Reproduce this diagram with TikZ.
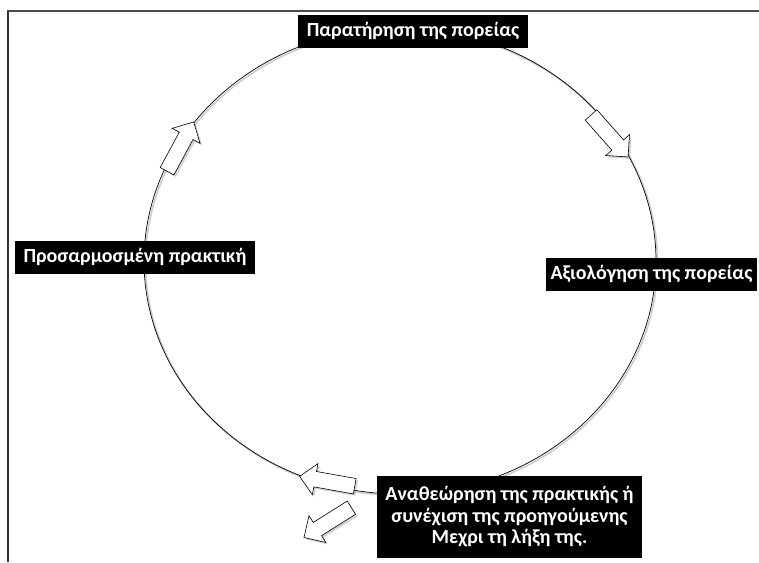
\documentclass[tikz,border=0pt]{standalone}
\usepackage{fontspec}
\setmainfont{Carlito}
\usetikzlibrary{shapes.arrows,shadows}

\begin{document}
\begin{tikzpicture}[x=1pt, y=-1pt,
    stage/.style={fill=black, text=white, font=\bfseries\fontsize{20}{21.5}\selectfont,
      inner xsep=9pt, minimum height=33pt, align=center},
    turn/.style={single arrow, draw=black, fill=white, line width=0.6pt,
      minimum height=56pt, minimum width=31pt, single arrow head extend=8pt,
      inner xsep=0pt, inner ysep=7.5pt,
      drop shadow={opacity=0.35, shadow xshift=2pt, shadow yshift=-2pt}}]
    \useasboundingbox (0,0) rectangle (759,562);
    % frame
    \draw[black!70, line width=2pt] (7,11) -- (759,11);
    \draw[black!80, line width=2pt] (8,11) -- (8,562);
    % cycle
    \draw[black!20, line width=1.6pt] (401.5,262.5) ellipse [x radius=256, y radius=233];
    \draw[line width=0.7pt] (400,261) ellipse [x radius=256, y radius=233];

    \node[stage] (observe) at (413,31) {Παρατήρηση της πορείας};
    \node[stage, inner xsep=5pt] (assess) at (651.5,274) {Αξιολόγηση της πορείας};
    \node[stage] (adapt) at (135,257) {Προσαρμοσμένη πρακτική};
    \node[stage, minimum height=82pt, inner xsep=8pt] (review) at (509.5,517)
        {Αναθεώρηση της πρακτικής ή\\ συνέχιση της προηγούμενης\\ Μεχρι τη λήξη της.};

    \node[turn, rotate=-48.6] (toassess) at (607,133) {};
    \node[turn, rotate=61.6] (toobserve) at (178.5,150) {};
    \node[turn, rotate=169.9] (toadapt) at (331,482) {};
    \node[turn, rotate=-147.8] (toend) at (331,520.5) {};
\end{tikzpicture}
\end{document}
